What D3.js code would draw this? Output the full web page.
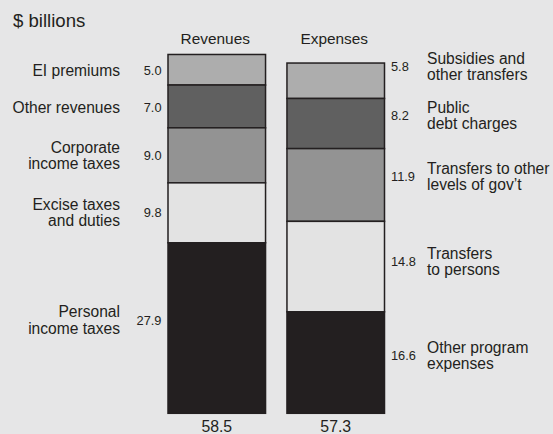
<!DOCTYPE html>
<html>
<head>
<meta charset="utf-8">
<script src="https://cdn.jsdelivr.net/npm/d3@7"></script>
<style>
  body { margin: 0; background: #e6e6e7; }
  svg { display: block; font-family: "Liberation Sans", Arial, Helvetica, sans-serif; }
</style>
</head>
<body>
<div id="chart"></div>
<script>
// columns and totals
const columns = ["Revenues", "Expenses"];
const totals = [58.5, 57.3];

// segments listed top to bottom
const revLabels = [["EI premiums"], ["Other revenues"], ["Corporate", "income taxes"], ["Excise taxes", "and duties"], ["Personal", "income taxes"]];
const revValues = [5.0, 7.0, 9.0, 9.8, 27.9];
const expLabels = [["Subsidies and", "other transfers"], ["Public", "debt charges"], ["Transfers to other", "levels of gov\u2019t"], ["Transfers", "to persons"], ["Other program", "expenses"]];
const expValues = [5.8, 8.2, 11.9, 14.8, 16.6];

const shades = ["#adadad", "#606060", "#939393", "#e3e3e3", "#231f20"];
const ink = "#231f20";

const width = 553, height = 434;
const svg = d3.select("#chart").append("svg")
  .attr("width", width)
  .attr("height", height);

svg.append("rect").attr("width", width).attr("height", height).attr("fill", "#e6e6e7");

const x = d3.scaleBand().domain(columns).range([168, 384.5]).paddingInner(0.18).paddingOuter(0);
const y = d3.scaleLinear().domain([0, 58.5]).range([413.3, 55.7]);

// label nudges (px) relative to segment middle, tuned by eye
const revNudge = [1, 1, 0, 0, -8];
const expNudge = [-14, -8, -8.5, -5, -7];

function stackTopDown(values) {
  // returns [{v, y0, y1}] top to bottom, stacked from zero at the bottom
  const out = [];
  let acc = 0;
  for (let i = values.length - 1; i >= 0; i--) {
    out[i] = { v: values[i], y0: acc, y1: acc + values[i], i: i };
    acc += values[i];
  }
  return out;
}

function drawColumn(name, values, labels, nudge, side) {
  const segs = stackTopDown(values);
  const g = svg.append("g");
  const x0 = x(name), bw = x.bandwidth();

  g.selectAll("rect.seg")
    .data(segs)
    .join("rect")
    .attr("class", "seg")
    .attr("x", x0)
    .attr("width", bw)
    .attr("y", d => y(d.y1))
    .attr("height", d => y(d.y0) - y(d.y1))
    .attr("fill", d => shades[d.i])
    .attr("stroke", ink)
    .attr("stroke-width", 1.5);

  const mid = d => (y(d.y0) + y(d.y1)) / 2 + nudge[d.i];

  g.selectAll("text.val")
    .data(segs)
    .join("text")
    .attr("class", "val")
    .attr("x", side === "left" ? x0 - 6.5 : x0 + bw + 6.5)
    .attr("y", mid)
    .attr("dy", "0.35em")
    .attr("text-anchor", side === "left" ? "end" : "start")
    .attr("font-size", 12.8)
    .attr("fill", ink)
    .text(d => d.v.toFixed(1));

  const lineH = 16.4;
  const lab = g.selectAll("text.lab")
    .data(segs)
    .join("text")
    .attr("class", "lab")
    .attr("x", side === "left" ? 120 : 427)
    .attr("y", mid)
    .attr("text-anchor", side === "left" ? "end" : "start")
    .attr("font-size", 15.6)
    .attr("fill", ink);

  lab.each(function(d) {
    const lines = labels[d.i];
    const start = -(lines.length - 1) * lineH / 2;
    d3.select(this).selectAll("tspan")
      .data(lines)
      .join("tspan")
      .attr("x", side === "left" ? 120 : 427)
      .attr("y", (t, k) => mid(d) + start + k * lineH)
      .attr("dy", "0.35em")
      .text(t => t);
  });
}

drawColumn("Revenues", revValues, revLabels, revNudge, "left");
drawColumn("Expenses", expValues, expLabels, expNudge, "right");

// column headings
svg.selectAll("text.head")
  .data(columns)
  .join("text")
  .attr("class", "head")
  .attr("x", d => x(d) + x.bandwidth() / 2 - 1.5)
  .attr("y", 44.3)
  .attr("text-anchor", "middle")
  .attr("font-size", 15.4)
  .attr("fill", ink)
  .text(d => d);

// totals under the bars
svg.selectAll("text.total")
  .data(columns)
  .join("text")
  .attr("class", "total")
  .attr("x", d => x(d) + x.bandwidth() / 2)
  .attr("y", 432)
  .attr("text-anchor", "middle")
  .attr("font-size", 15.8)
  .attr("fill", ink)
  .text((d, i) => totals[i].toFixed(1));

svg.append("text")
  .attr("x", 13)
  .attr("y", 26.5)
  .attr("font-size", 18.6)
  .attr("fill", ink)
  .text("$ billions");
</script>
</body>
</html>
